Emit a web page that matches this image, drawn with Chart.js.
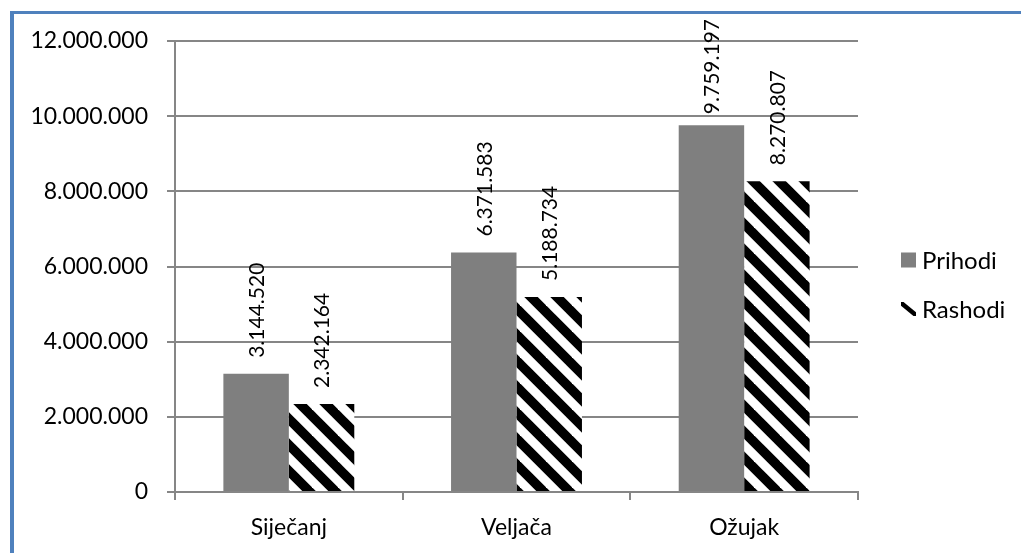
<!DOCTYPE html>
<html>
<head>
<meta charset="utf-8">
<script src="https://cdn.jsdelivr.net/npm/chart.js@4.4.1/dist/chart.umd.min.js"></script>
<style>
  html, body { margin: 0; padding: 0; background: #ffffff; }
  #wrap { position: relative; width: 1021px; height: 553px; overflow: hidden; }
  #frame { position: absolute; left: 10px; top: 11px; width: 1100px; height: 600px;
           border-left: 4px solid #4F81BD; border-top: 3px solid #4F81BD; }
  canvas { position: absolute; left: 0; top: 0; }
</style>
</head>
<body>
<div id="wrap">
  <div id="frame"></div>
  <canvas id="c" width="1021" height="553"></canvas>
</div>
<script>
// ---- data ----
const categories = ['Siječanj', 'Veljača', 'Ožujak'];
const seriesNames = ['Prihodi', 'Rashodi'];
const prihodi = [3144520, 6371583, 9759197];
const rashodi = [2342164, 5188734, 8270807];
const yTickValues = [0, 2000000, 4000000, 6000000, 8000000, 10000000, 12000000];

function fmt(v) {
  return String(Math.round(v)).replace(/\B(?=(\d{3})+(?!\d))/g, '.');
}

// hatch pattern
function makeHatch() {
  const s = 26;
  const c = document.createElement('canvas');
  c.width = s; c.height = s;
  const g = c.getContext('2d');
  g.fillStyle = '#ffffff';
  g.fillRect(0, 0, s, s);
  g.strokeStyle = '#000000';
  g.lineWidth = 9.5;
  g.lineCap = 'square';
  for (let k = -1; k <= 1; k++) {
    g.beginPath();
    g.moveTo(k * s - 2, -2);
    g.lineTo(k * s + s + 2, s + 2);
    g.stroke();
  }
  const ctx = document.getElementById('c').getContext('2d');
  return ctx.createPattern(c, 'repeat');
}

const GRID = '#868686';
Chart.defaults.font.family = 'Lato, "Open Sans", sans-serif';
Chart.defaults.color = '#000000';

const dataLabels = {
  id: 'dataLabels',
  afterDatasetsDraw(chart) {
    const ctx = chart.ctx;
    ctx.save();
    ctx.fillStyle = '#000';
    ctx.font = '21px Lato, "Open Sans", sans-serif';
    ctx.textAlign = 'left';
    ctx.textBaseline = 'middle';
    chart.data.datasets.forEach((ds, di) => {
      const meta = chart.getDatasetMeta(di);
      meta.data.forEach((el, i) => {
        const txt = fmt(ds.data[i]);
        const w = ctx.measureText(txt).width;
        const start = Math.max(el.y - 16, 19 + w);
        ctx.save();
        ctx.translate(el.x + 1, start);
        ctx.rotate(-Math.PI / 2);
        ctx.fillText(txt, 0, 0);
        ctx.restore();
      });
    });
    ctx.restore();
  }
};

const customLegend = {
  id: 'customLegend',
  afterDraw(chart) {
    const ctx = chart.ctx;
    const x0 = 901, rows = [260.5, 309];
    ctx.save();
    ctx.font = '24px Lato, "Open Sans", sans-serif';
    ctx.textBaseline = 'middle';
    ctx.textAlign = 'left';
    chart.data.datasets.forEach((ds, i) => {
      const cy = rows[i];
      if (ds.hatched) {
        ctx.save();
        ctx.beginPath();
        ctx.rect(x0, cy - 7, 15, 14);
        ctx.clip();
        ctx.strokeStyle = '#000';
        ctx.lineWidth = 4.5;
        ctx.beginPath();
        ctx.moveTo(x0 - 1, cy - 7);
        ctx.lineTo(x0 + 16, cy + 7);
        ctx.stroke();
        ctx.restore();
      } else {
        ctx.fillStyle = ds.backgroundColor;
        ctx.fillRect(x0, cy - 8, 15, 15);
      }
      ctx.fillStyle = '#000';
      ctx.fillText(ds.label, x0 + 21, cy + 1);
    });
    ctx.restore();
  }
};

const hatch = makeHatch();

new Chart(document.getElementById('c'), {
  type: 'bar',
  data: {
    labels: categories,
    datasets: [
      { label: seriesNames[0], data: prihodi, backgroundColor: '#7F7F7F', borderWidth: 0 },
      { label: seriesNames[1], data: rashodi, backgroundColor: hatch, borderWidth: 0, hatched: true }
    ]
  },
  options: {
    responsive: false,
    animation: false,
    devicePixelRatio: 1,
    layout: { padding: { left: 0, top: 41, right: 163, bottom: 0 } },
    datasets: { bar: { categoryPercentage: 0.575, barPercentage: 1.0 } },
    plugins: { legend: { display: false }, tooltip: { enabled: false } },
    scales: {
      x: {
        offset: true,
        grid: { offset: true, drawOnChartArea: false, drawTicks: true, tickLength: 8, color: GRID, lineWidth: 2 },
        border: { display: true, color: GRID, width: 2 },
        ticks: { font: { size: 23 }, padding: 14, color: '#000' },
        afterFit(s) { s.height = 61; }
      },
      y: {
        min: 0, max: 12000000,
        afterBuildTicks(s) { s.ticks = yTickValues.map(v => ({ value: v })); },
        grid: { color: GRID, lineWidth: 2, tickLength: 8 },
        border: { display: true, color: GRID, width: 2 },
        ticks: { font: { size: 23 }, padding: 19, color: '#000', callback: v => fmt(v) },
        afterFit(s) { s.width = 175; }
      }
    }
  },
  plugins: [dataLabels, customLegend]
});
</script>
</body>
</html>
